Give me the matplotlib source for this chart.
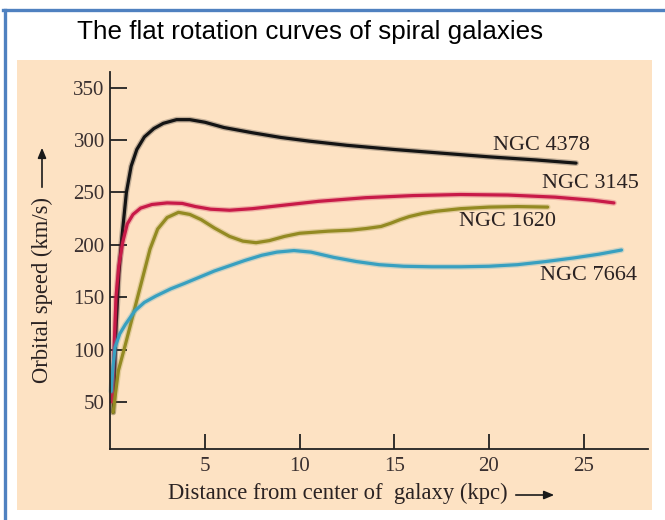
import numpy as np
import matplotlib
matplotlib.use('Agg')
import matplotlib.pyplot as plt
from matplotlib.patches import Rectangle, FancyArrowPatch
from matplotlib.lines import Line2D

# rotation curves: distance (kpc) vs orbital speed (km/s)
ngc4378_r = [0.15, 0.3, 0.45, 0.6, 0.85, 1.1, 1.4, 1.8, 2.3, 2.8, 3.5, 4.2, 5.0, 6.0,
             7.5, 9.0, 10.5, 12.5, 15.0, 17.5, 20.0, 22.5, 24.6]
ngc4378_v = [40, 120, 172, 205, 250, 275, 291, 303, 311, 316, 319.5, 319.5, 317, 312,
             307, 302.5, 299, 295, 291, 287.5, 284, 281, 278]

ngc3145_r = [0.1, 0.2, 0.3, 0.45, 0.65, 0.9, 1.2, 1.6, 2.2, 3.0, 3.8, 4.5, 5.3, 6.3,
             7.5, 9.0, 11.0, 13.5, 16.0, 18.5, 21.0, 23.5, 25.5, 26.6]
ngc3145_v = [50, 100, 150, 180, 202, 220, 229, 235, 238.5, 240, 239.5, 236.5, 234, 233,
             234.5, 237.5, 241.5, 245, 247, 248, 247.5, 245.5, 242.5, 240]

ngc1620_r = [0.15, 0.43, 0.8, 1.2, 1.6, 2.1, 2.5, 3.0, 3.6, 4.2, 4.8, 5.5, 6.3, 7.0,
             7.7, 8.4, 9.2, 10.0, 11.5, 12.7, 13.5, 14.3, 14.8, 15.3, 15.8, 16.5, 17.2,
             18.5, 20.0, 21.5, 23.1]
ngc1620_v = [40, 80, 105, 133, 161, 196, 215, 226, 231, 229, 224, 216, 208, 203.5,
             202, 204, 208, 211, 213, 214, 215.5, 217.5, 220.5, 224, 227, 230, 232,
             234.5, 236, 236.5, 236]

ngc7664_r = [0.05, 0.15, 0.25, 0.5, 0.8, 1.3, 1.8, 2.4, 3.2, 3.9, 4.7, 5.5, 6.3, 7.1,
             8.0, 8.8, 9.7, 10.6, 11.8, 13.0, 14.2, 15.5, 17.0, 18.5, 20.0, 21.5, 23.0,
             24.5, 25.8, 27.0]
ngc7664_v = [60, 85, 102, 115, 124, 137, 145, 151, 158, 163, 169, 175, 180, 185,
             190, 193, 194.5, 193, 188, 184, 181, 179.5, 179, 179, 179.5, 181, 184,
             187.5, 191, 195]

names = ['NGC 4378', 'NGC 3145', 'NGC 1620', 'NGC 7664']
label_pos = [(20.2, 295), (22.8, 259), (18.4, 222), (22.7, 171)]
colors = ['#141414', '#c81a48', '#938a22', '#38a0c0']

W, H = 665, 520
fig = plt.figure(figsize=(W / 100, H / 100), dpi=100)
fig.patch.set_facecolor('white')

def fx(px):
    return px / W

def fy(py):
    return 1 - py / H

# peach panel behind the plot
fig.patches.append(Rectangle((fx(17), fy(510)), fx(652) - fx(17), fy(60) - fy(510),
                             transform=fig.transFigure, facecolor='#fde2c3',
                             edgecolor='none', zorder=-5))
# blue frame on the top and left
fig.add_artist(Line2D([fx(3), 1], [fy(10), fy(10)], color='#4f81c0', lw=2.4))
fig.add_artist(Line2D([fx(4.5), fx(4.5)], [fy(10), 0], color='#4f81c0', lw=2.4))

fig.text(fx(77), fy(32), 'The flat rotation curves of spiral galaxies',
         family='Liberation Sans', fontsize=18.7, va='center', ha='left')

ax = fig.add_axes([fx(110.3), fy(449), fx(648) - fx(110.3), fy(72) - fy(449)], zorder=2)
ax.set_facecolor('none')
ax.set_xlim(0, 28.4)
ax.set_ylim(5, 365)
for s in ['top', 'right']:
    ax.spines[s].set_visible(False)
for s in ['left', 'bottom']:
    ax.spines[s].set_linewidth(1.3)
    ax.spines[s].set_color('#222222')

ax.set_xticks([5, 10, 15, 20, 25])
ax.set_yticks([50, 100, 150, 200, 250, 300, 350])
ax.tick_params(axis='y', direction='in', length=12, width=1.3, pad=4,
               labelsize=15, colors='#222222', labelcolor='#3a3030')
ax.tick_params(axis='x', direction='in', length=11, width=1.3, pad=6,
               labelsize=15, colors='#222222', labelcolor='#3a3030')
for lab in ax.get_xticklabels() + ax.get_yticklabels():
    lab.set_family('Liberation Serif')

series = [(ngc4378_r, ngc4378_v), (ngc3145_r, ngc3145_v),
          (ngc1620_r, ngc1620_v), (ngc7664_r, ngc7664_v)]
for (r, v), c in zip(series, colors):
    ax.plot(r, v, color=c, lw=4.2, alpha=0.25, solid_capstyle='round',
            solid_joinstyle='round', clip_on=False)
    ax.plot(r, v, color=c, lw=2.3, solid_capstyle='round',
            solid_joinstyle='round', clip_on=False)

for name, (x, y) in zip(names, label_pos):
    ax.text(x, y, name, family='Liberation Serif', fontsize=16, color='#2a2222',
            va='center', ha='left')

# axis titles with arrows
fig.text(fx(42), fy(290), 'Orbital speed (km/s)', rotation=90, family='Liberation Serif',
         fontsize=16.3, color='#2a2222', va='center', ha='center')
fig.add_artist(FancyArrowPatch(
    (fx(42), fy(190)), (fx(42), fy(145)), transform=fig.transFigure,
    arrowstyle='-|>,head_length=6,head_width=2.5', color='#1a1a1a', lw=1.2))
fig.text(fx(168), fy(493), 'Distance from center of  galaxy (kpc)', family='Liberation Serif',
         fontsize=16.3, color='#2a2222', va='center', ha='left')
fig.add_artist(FancyArrowPatch(
    (fx(513), fy(495)), (fx(557), fy(495)), transform=fig.transFigure,
    arrowstyle='-|>,head_length=6,head_width=2.5', color='#1a1a1a', lw=1.2))

fig.savefig('out.png', dpi=100)
